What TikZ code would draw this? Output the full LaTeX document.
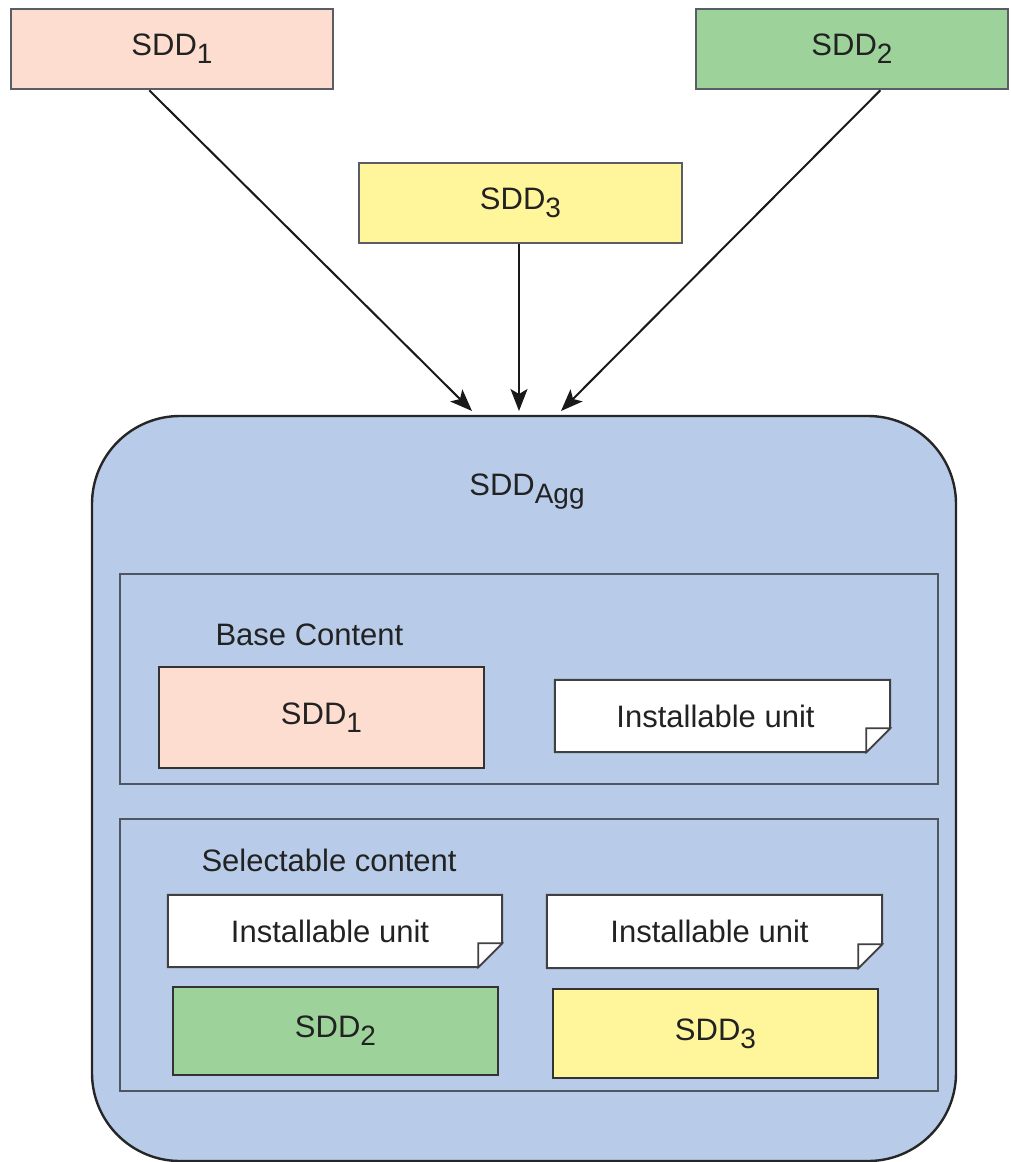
\documentclass[tikz,border=0pt]{standalone}
\usepackage{fontspec}
\setmainfont{Liberation Sans}
\usetikzlibrary{arrows.meta,calc}
\definecolor{peach}{RGB}{252,221,207}
\definecolor{sddgreen}{RGB}{157,211,155}
\definecolor{sddyellow}{RGB}{255,245,155}
\definecolor{aggblue}{RGB}{184,204,233}
\definecolor{txt}{RGB}{34,34,34}
\definecolor{edge}{RGB}{80,86,96}
\newcommand\subidx[1]{\raisebox{-8pt}{\fontsize{28}{28}\selectfont #1}}
\tikzset{
  lbl/.style={font=\fontsize{31}{31}\selectfont, text=txt},
  topbox/.style={draw=edge!80!gray, line width=2.6pt, inner sep=0pt, lbl},
  innerbox/.style={draw=black!80, line width=2pt, inner sep=0pt, lbl},
  panel/.style={draw=edge, line width=2.4pt},
  arr/.style={draw=black!90, line width=2pt, -{Stealth[length=22pt,width=17pt,inset=5pt]}},
  iunit/.style={rectangle, inner sep=0pt, lbl}
}
\newcommand\iupath[2]{% node name, fold size
  \draw[draw=black!75, line width=2pt, fill=white]
    (#1.north west) -- (#1.north east) -- ($(#1.south east)+(0,-#2)$) -- ($(#1.south east)+(-#2,0)$) -- (#1.south west) -- cycle;
  \draw[draw=black!75, line width=1.6pt, fill=white]
    ($(#1.south east)+(-#2,-#2)$) -- ($(#1.south east)+(0,-#2)$) -- ($(#1.south east)+(-#2,0)$) -- cycle;
}
\begin{document}
\begin{tikzpicture}[x=1pt,y=-1pt]
\useasboundingbox (0,0) rectangle (1010,1162);
% top boxes
\node[topbox, fill=peach, minimum width=322pt, minimum height=80pt] (t1) at (172,49) {SDD\subidx{1}};
\node[topbox, fill=sddgreen, minimum width=312pt, minimum height=80pt] (t2) at (852,49) {SDD\subidx{2}};
\node[topbox, fill=sddyellow, minimum width=323pt, minimum height=80pt] (t3) at (520.5,203) {SDD\subidx{3}};
% aggregate
\draw[draw=black!85, line width=2.4pt, fill=aggblue, rounded corners=88pt] (92,416) rectangle (956,1161);
\node[lbl] (agg) at (527,492) {SDD\subidx{Agg}};
\coordinate (e1) at (472,411);
\coordinate (e2) at (519,411);
\coordinate (e3) at (561,411);
\draw[arr] ($(t1.south west)!0.43!(t1.south east)$) -- (e1);
\draw[arr] (t3.south -| e2) -- (e2);
\draw[arr] ($(t2.south west)!0.59!(t2.south east)$) -- (e3);
% base content
\node[panel, rectangle, minimum width=818pt, minimum height=210pt, inner sep=0pt] (base) at (529,679) {};
\node[lbl, anchor=west] (basel) at (212,635) {Base Content};
\node[innerbox, fill=peach, minimum width=325pt, minimum height=101pt] (b1) at (321.5,717.5) {SDD\subidx{1}};
\node[iunit, minimum width=335pt, minimum height=72pt] (iu1) at (722.5,716) {};
\iupath{iu1}{24}
\node[lbl] at (iu1.center) {\hspace*{-14pt}Installable unit};
% selectable content
\node[panel, rectangle, minimum width=818pt, minimum height=272pt, inner sep=0pt] (sel) at (529,955) {};
\node[lbl, anchor=west] (sell) at (198,860) {Selectable content};
\node[iunit, minimum width=334pt, minimum height=72pt] (iu2) at (335,931) {};
\iupath{iu2}{24}
\node[lbl] at (iu2.center) {\hspace*{-10pt}Installable unit};
\node[iunit, minimum width=335pt, minimum height=73pt] (iu3) at (714.5,931.5) {};
\iupath{iu3}{24}
\node[lbl] at (iu3.center) {\hspace*{-10pt}Installable unit};
\node[innerbox, fill=sddgreen, minimum width=325pt, minimum height=88pt] (s2) at (335.5,1031) {SDD\subidx{2}};
\node[innerbox, fill=sddyellow, minimum width=325pt, minimum height=89pt] (s3) at (715.5,1033.5) {SDD\subidx{3}};
\end{tikzpicture}
\end{document}
